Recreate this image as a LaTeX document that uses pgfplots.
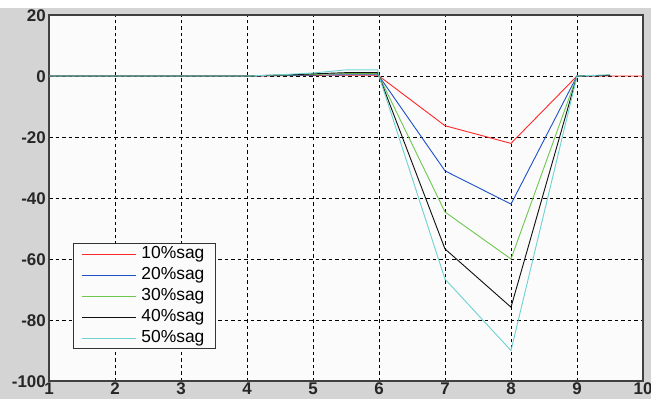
\documentclass[border=0pt]{standalone}
\usepackage{pgfplots}
\pgfplotsset{compat=1.18}
\usepackage{fontspec}
\setmainfont{Liberation Sans}
\definecolor{figbg}{RGB}{212,212,212}
\definecolor{axbg}{RGB}{251,251,251}
\definecolor{cred}{RGB}{255,40,40}
\definecolor{cblue}{RGB}{30,80,200}
\definecolor{cgreen}{RGB}{110,200,80}
\definecolor{cblack}{RGB}{15,15,15}
\definecolor{ccyan}{RGB}{110,210,210}
\begin{document}
\begin{tikzpicture}[x=1bp,y=1bp]
\fill[figbg] (0,0) rectangle (651,399);
\fill[white] (0,391) rectangle (651,399);
\begin{axis}[
  at={(49bp,18bp)}, anchor=south west,
  scale only axis, width=594bp, height=366bp,
  xmin=1, xmax=10, ymin=-100, ymax=20,
  xtick={1,...,10}, ytick={-100,-80,...,20},
  axis background/.style={fill=axbg},
  axis line style={draw=black!75, line width=1.2bp},
  major tick length=0pt,
  grid=major,
  major grid style={black, dash pattern=on 3.5bp off 3bp, line width=0.9bp},
  tick label style={font=\fontsize{17}{17}\selectfont\bfseries, text=black!85},
  /pgf/number format/assume math mode=true,
  xticklabel style={yshift=0bp, inner sep=1.5bp},
  yticklabel style={xshift=-1bp, yshift=-1bp, inner sep=2bp},
  legend style={at={(rel axis cs:0.0405,0.087)}, anchor=south west,
    draw=black!80, line width=0.9bp, fill=axbg,
    font=\fontsize{17.5}{18}\selectfont, inner xsep=8.5bp, inner ysep=0bp,
    nodes={text height=12.5bp, text depth=3.5bp, inner sep=2.5bp},
    column sep=2bp, row sep=0bp},
  legend cell align=left,
  legend image code/.code={\draw[#1] (0bp,0bp) -- (54bp,0bp);},
  every axis plot/.append style={line width=0.9bp},
]
\addplot[cred] coordinates {(1,0)(4,0)(4.5,0.1)(5,0.2)(5.5,0.3)(5.98,0.3)(6,0)(7,-16.3)(8,-22.1)(9,0)(10,0)};
\addplot[cblue] coordinates {(1,0)(4,0)(4.5,0.15)(5,0.3)(5.5,0.4)(5.98,0.4)(6,0)(7,-31.1)(8,-42)(9,0)(9.5,0.2)};
\addplot[cgreen] coordinates {(1,0)(4,0)(4.5,0.25)(5,0.5)(5.5,0.8)(5.98,0.8)(6,0)(7,-44.6)(8,-60)(9,0)(9.5,0.3)};
\addplot[cblack] coordinates {(1,0)(4,0)(4.3,0.2)(4.8,0.5)(5,0.7)(5.5,1.1)(5.98,1.1)(6,0)(7,-56.7)(8,-75.8)(9,0)(9.5,0.2)};
\addplot[ccyan] coordinates {(1,0)(4,0)(4.5,0.4)(5,1.0)(5.5,2.0)(5.98,2.0)(6,0)(7,-66.6)(8,-90)(9,0)(9.5,0.4)};
\legend{10\%sag,20\%sag,30\%sag,40\%sag,50\%sag}
\end{axis}
\pgfresetboundingbox
\path (0,0) rectangle (651,399);
\end{tikzpicture}
\end{document}
